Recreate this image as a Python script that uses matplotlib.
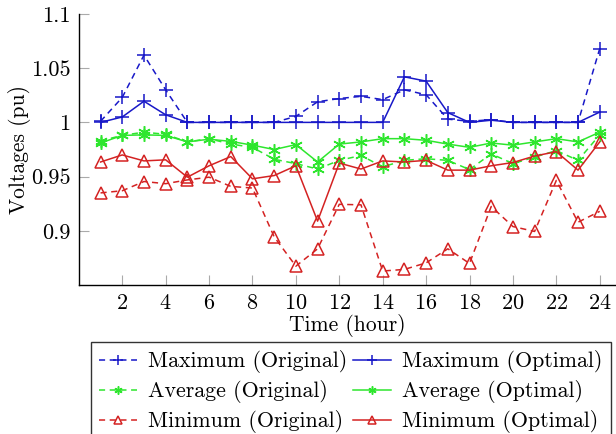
import matplotlib
matplotlib.use('Agg')
import matplotlib.pyplot as plt

plt.rcParams['font.family'] = ['cmr10', 'DejaVu Serif']
plt.rcParams['axes.formatter.use_mathtext'] = True
plt.rcParams['font.size'] = 15.5

# Hourly voltage data (pu)
hours = list(range(1, 25))

max_orig = [1.001, 1.023, 1.062, 1.030, 1.000, 1.000, 1.000, 1.000, 1.000, 1.0055, 1.019, 1.022,
            1.024, 1.021, 1.030, 1.0255, 1.003, 1.001, 1.0025, 1.000, 1.000, 1.000, 1.000, 1.068]
max_opt = [1.000, 1.005, 1.0195, 1.007, 1.000, 1.000, 1.000, 1.000, 1.000, 1.000, 1.000, 1.000,
           1.000, 1.000, 1.042, 1.038, 1.009, 1.000, 1.002, 1.000, 1.000, 1.000, 1.000, 1.0095]
avg_orig = [0.983, 0.988, 0.991, 0.989, 0.982, 0.985, 0.980, 0.977, 0.966, 0.962, 0.957, 0.965,
            0.9695, 0.959, 0.965, 0.9665, 0.965, 0.9565, 0.971, 0.962, 0.968, 0.974, 0.965, 0.9885]
avg_opt = [0.981, 0.988, 0.9885, 0.988, 0.982, 0.9845, 0.9825, 0.979, 0.975, 0.9795, 0.9635, 0.980,
           0.982, 0.985, 0.985, 0.9835, 0.980, 0.977, 0.981, 0.979, 0.982, 0.985, 0.982, 0.991]
min_orig = [0.935, 0.937, 0.9455, 0.9435, 0.947, 0.9495, 0.941, 0.9395, 0.8945, 0.8675, 0.8835, 0.9245,
            0.924, 0.863, 0.8645, 0.8705, 0.8835, 0.870, 0.9225, 0.904, 0.8995, 0.9465, 0.908, 0.918]
min_opt = [0.9635, 0.970, 0.9645, 0.9655, 0.9495, 0.960, 0.9685, 0.948, 0.951, 0.960, 0.909, 0.9625,
           0.957, 0.9645, 0.9635, 0.965, 0.956, 0.956, 0.960, 0.963, 0.969, 0.973, 0.956, 0.982]

blue = '#1818c8'
green = '#2ee62e'
red = '#d42222'
star = (6, 2, 0)

fig = plt.figure(figsize=(6.16, 4.34), dpi=100)
ax = fig.add_axes([0.128, 0.343, 0.872, 0.625])

dash = (4, 3)
l1, = ax.plot(hours, max_orig, color=blue, lw=1.1, dashes=dash, marker='+', ms=10, mew=1.1,
              label='Maximum (Original)')
l2, = ax.plot(hours, max_opt, color=blue, lw=1.1, marker='+', ms=10, mew=1.1,
              label='Maximum (Optimal)')
l3, = ax.plot(hours, avg_orig, color=green, lw=1.1, dashes=dash, marker=star, ms=9, mew=1.1,
              label='Average (Original)')
l4, = ax.plot(hours, avg_opt, color=green, lw=1.1, marker=star, ms=9, mew=1.1,
              label='Average (Optimal)')
l5, = ax.plot(hours, min_orig, color=red, lw=1.1, dashes=dash, marker='^', ms=8, mew=1.1,
              mfc='none', label='Minimum (Original)')
l6, = ax.plot(hours, min_opt, color=red, lw=1.1, marker='^', ms=8, mew=1.1,
              mfc='none', label='Minimum (Optimal)')

ax.set_xlim(0, 24.75)
ax.set_ylim(0.85, 1.1)
ax.set_xticks(range(2, 25, 2))
ax.set_yticks([0.9, 0.95, 1.0, 1.05, 1.1])
ax.set_yticklabels(['0.9', '0.95', '1', '1.05', '1.1'])
ax.tick_params(direction='in', length=7, width=0.8, color='#aaaaaa', pad=6, labelsize=16)

for side in ['top', 'right']:
    ax.spines[side].set_visible(False)
for side in ['left', 'bottom']:
    ax.spines[side].set_linewidth(1.0)

ax.set_xlabel('Time (hour)', labelpad=1)
ax.set_ylabel('Voltages (pu)', labelpad=0)

# legend rows: Original in left column, Optimal in right column
fig.legend(handles=[l1, l3, l5, l2, l4, l6], ncol=2, loc='upper left',
           bbox_to_anchor=(0.147, 0.213), frameon=True, fancybox=False,
           edgecolor='#333333', framealpha=1, borderpad=0.4, labelspacing=0.32,
           columnspacing=0.3, handlelength=1.7, handletextpad=0.5, borderaxespad=0,
           markerscale=0.65, fontsize=15.8)

fig.savefig('out.png', dpi=100)
